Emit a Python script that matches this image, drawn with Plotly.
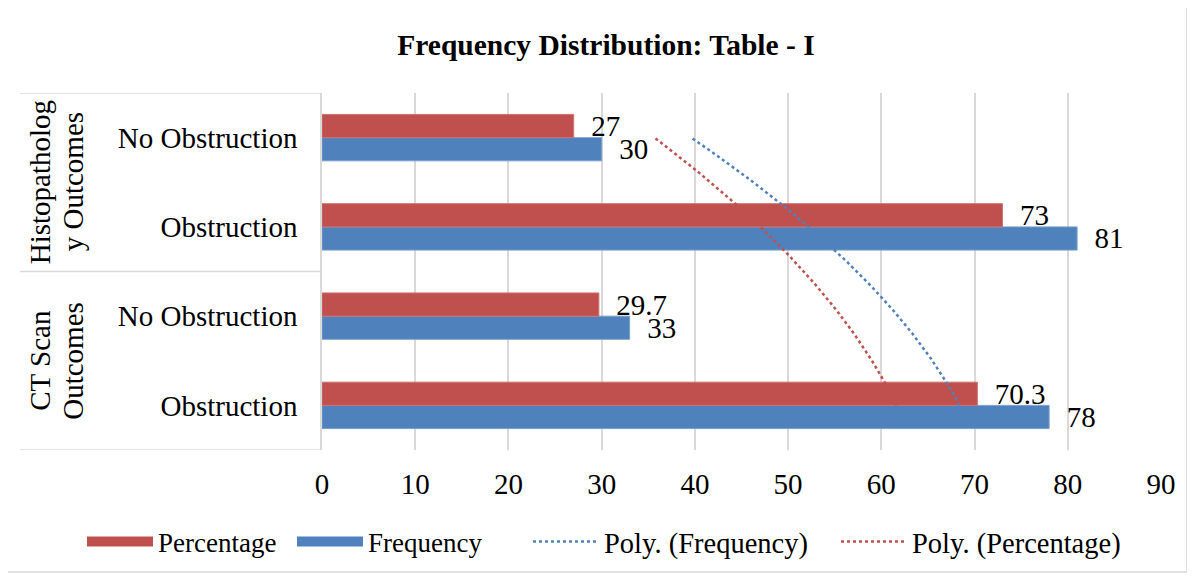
import numpy as np
import plotly.graph_objects as go

# ---- data (bottom -> top, as in the chart) ----
categories = ["Obstruction", "No Obstruction", "Obstruction", "No Obstruction"]
group_lines = [["CT Scan", "Outcomes"], ["Histopatholog", "y Outcomes"]]
frequency = [78, 33, 81, 30]
percentage = [70.3, 29.7, 73, 27]
x_ticks = [0, 10, 20, 30, 40, 50, 60, 70, 80, 90]

# page body has an 8px margin, so the figure is drawn 8px in from the corner
W, H = 1187, 570
L, R, T, B = 314, 34, 85, 128
PW, PH = W - L - R, H - T - B

def px(xp):
    return (xp - L) / PW

def py(yp):
    return (H - B - yp) / PH

FONT = "Liberation Serif, Times New Roman, serif"
FS = 29
RED = "#C0504D"
BLUE = "#4F81BD"
GRID = "#D9D9D9"

pos = np.arange(1, len(categories) + 1)

fig = go.Figure()
fig.add_trace(go.Bar(
    y=pos, x=frequency, orientation="h", name="Frequency",
    marker=dict(color=BLUE, line=dict(color="#7BA0CD", width=1)),
    text=[str(v) for v in frequency], texttemplate="\u00a0\u00a0%{text}",
    textposition="outside", constraintext="none", cliponaxis=False,
    textfont=dict(family=FONT, size=FS, color="black"),
    showlegend=False,
))
fig.add_trace(go.Bar(
    y=pos, x=percentage, orientation="h", name="Percentage",
    marker=dict(color=RED, line=dict(color="#CD7371", width=1)),
    text=[str(v) for v in percentage], texttemplate="\u00a0\u00a0%{text}",
    textposition="outside", constraintext="none", cliponaxis=False,
    textfont=dict(family=FONT, size=FS, color="black"),
    showlegend=False,
))

# polynomial (order 2) trendlines over category index, as Excel does
t = np.linspace(1, len(categories), 200)
cf = np.polyfit(pos, frequency, 2)
cp = np.polyfit(pos, percentage, 2)
fig.add_trace(go.Scatter(
    x=np.polyval(cf, t), y=t, mode="lines", name="Poly. (Frequency)",
    line=dict(color=BLUE, width=2.5, dash="dot"), showlegend=False,
))
fig.add_trace(go.Scatter(
    x=np.polyval(cp, t), y=t, mode="lines", name="Poly. (Percentage)",
    line=dict(color=RED, width=2.5, dash="dot"), showlegend=False,
))

# legend entries (wide swatches like Excel), one legend box per entry
legend_items = [
    ("Percentage", RED, "solid", 15, "legend", 74, 27),
    ("Frequency", BLUE, "solid", 15, "legend2", 284, 27),
    ("Poly. (Frequency)", BLUE, "dot", 2.5, "legend3", 520, 28.5),
    ("Poly. (Percentage)", RED, "dot", 2.5, "legend4", 828, 28.5),
]
legend_layout = {}
for name, color, dash, width, lg, lx, lfs in legend_items:
    fig.add_trace(go.Scatter(
        x=[None], y=[None], mode="lines", name=name, legend=lg,
        line=dict(color=color, width=width, dash=dash), hoverinfo="skip",
    ))
    legend_layout[lg] = dict(
        orientation="h", x=px(lx), xref="paper", xanchor="left",
        y=py(534), yref="paper", yanchor="middle",
        font=dict(family=FONT, size=lfs, color="black"),
        itemwidth=66, bgcolor="rgba(0,0,0,0)",
    )

shapes = [
    # outer chart border
    dict(type="rect", xref="paper", yref="paper", x0=px(-1), x1=px(1179), y0=py(-2), y1=py(564),
         line=dict(color=GRID, width=1.5), layer="below"),
]
# multi-level category separators
for yv in [0.5, 2.5, 4.5]:
    shapes.append(dict(type="line", xref="paper", yref="y", x0=px(12), x1=0, y0=yv, y1=yv,
                       line=dict(color=GRID, width=1.5)))

annotations = []
for gi, lines in enumerate(group_lines):
    yc = 1.5 + 2 * gi
    for li, txt in enumerate(lines):
        annotations.append(dict(
            xref="paper", yref="y", x=px(32 + 33 * li), y=yc, text=txt, textangle=-90,
            showarrow=False, font=dict(family=FONT, size=FS, color="black"),
            xanchor="center", yanchor="middle",
        ))

fig.update_layout(
    width=W, height=H,
    margin=dict(l=L, r=R, t=T, b=B, autoexpand=False),
    paper_bgcolor="white", plot_bgcolor="white",
    barmode="group", bargap=0.48, bargroupgap=0,
    font=dict(family=FONT, size=FS, color="black"),
    title=dict(text="<b>Frequency Distribution: Table - I</b>", x=598 / W, xref="container",
               xanchor="center", y=1 - 37 / H, yanchor="middle",
               font=dict(family=FONT, size=29.5, color="black")),
    xaxis=dict(range=[0, 90], tickvals=x_ticks, showgrid=True, gridcolor=GRID, gridwidth=1.5,
               zeroline=False, showline=False, ticks="", ticklabelstandoff=14,
               tickfont=dict(family=FONT, size=FS, color="black")),
    yaxis=dict(range=[0.5, 4.5], tickvals=list(pos), ticktext=categories, showgrid=False,
               zeroline=False, showline=True, linecolor=GRID, linewidth=1.5, ticks="",
               ticklabelstandoff=17, tickfont=dict(family=FONT, size=FS, color="black")),
    shapes=shapes, annotations=annotations,
    showlegend=True,
    **legend_layout,
)
fig.write_html("out.html")
